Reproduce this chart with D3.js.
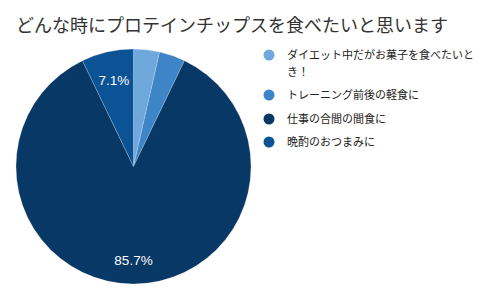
<!DOCTYPE html>
<html><head><meta charset="utf-8">
<script src="https://cdn.jsdelivr.net/npm/d3@7"></script>
<style>body{margin:0;background:#fff}svg{display:block}</style>
</head><body>
<svg id="c" width="500" height="300"></svg>
<script>
const title = "どんな時にプロテインチップスを食べたいと思います";
const categories = ["ダイエット中だがお菓子を食べたいとき！", "トレーニング前後の軽食に", "仕事の合間の間食に", "晩酌のおつまみに"];
const legendLines = [["ダイエット中だがお菓子を食べたいと", "き！"], ["トレーニング前後の軽食に"], ["仕事の合間の間食に"], ["晩酌のおつまみに"]];
const values = [1, 1, 24, 2];
const colors = ["#6fa8dc", "#3d85c6", "#083866", "#0b5394"];

const svg = d3.select("#c");
const font = "'Noto Sans CJK JP', 'Noto Sans', Arial, sans-serif";
svg.append("rect").attr("width", 500).attr("height", 300).attr("fill", "#fff");
svg.append("text").attr("x", 16).attr("y", 32).attr("font-family", font)
  .attr("font-size", 18).attr("fill", "#333").text(title);

const cx = 133.5, cy = 166.5, r = 117.5;
const total = d3.sum(values);
const pie = d3.pie().sort(null).value(d => d)(values);
const arc = d3.arc().innerRadius(0).outerRadius(r);
const g = svg.append("g").attr("transform", `translate(${cx},${cy})`);
g.selectAll("path").data(pie).join("path")
  .attr("d", arc).attr("fill", (d, i) => colors[i])
  .attr("stroke", "#fff").attr("stroke-opacity", 0.35).attr("stroke-width", 0.6);
g.selectAll("text.lbl").data(pie.filter(d => d.data / total > 0.05)).join("text")
  .attr("class", "lbl")
  .attr("transform", d => {
    const a = (d.startAngle + d.endAngle) / 2;
    const rr = d.data / total > 0.5 ? r * 0.8 : r * 0.75;
    return `translate(${Math.sin(a) * rr},${-Math.cos(a) * rr})`;
  })
  .attr("text-anchor", "middle").attr("dy", "0.35em")
  .attr("font-family", "Arial, 'Liberation Sans', sans-serif").attr("font-size", 13.5)
  .attr("fill", "#fff")
  .text(d => (d.data / total * 100).toFixed(1) + "%");

const legY = [55, 95, 119, 142];
const lg = svg.append("g");
categories.forEach((c, i) => {
  lg.append("circle").attr("cx", 269).attr("cy", legY[i]).attr("r", 5.5).attr("fill", colors[i]);
  legendLines[i].forEach((ln, j) => {
    lg.append("text").attr("x", 287).attr("y", legY[i] + 4 + j * 17)
      .attr("font-family", font).attr("font-size", 11).attr("fill", "#222").text(ln);
  });
});
</script>
</body></html>
